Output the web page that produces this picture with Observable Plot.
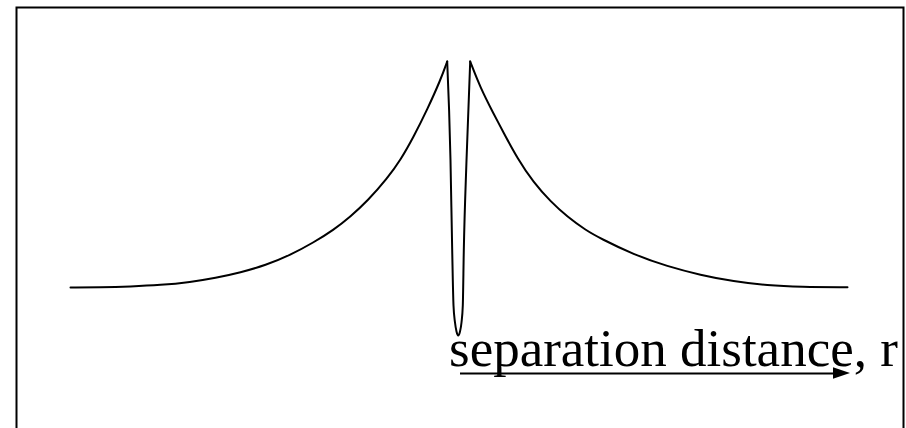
<!DOCTYPE html>
<html>
<head>
<meta charset="utf-8">
<script src="https://cdn.jsdelivr.net/npm/d3@7"></script>
<script src="https://cdn.jsdelivr.net/npm/@observablehq/plot@0.6"></script>
<style>
  html, body { margin: 0; padding: 0; background: #fff; overflow: hidden; }
  #wrap { width: 906px; height: 428px; overflow: hidden; }
</style>
</head>
<body>
<div id="wrap"></div>
<script>
// Potential U(r) vs separation distance r (arbitrary units)
// left tail (rise up to the left peak)
const leftR = [-3.877, -3.577, -3.277, -2.977, -2.677, -2.427, -2.177, -1.927, -1.677, -1.447, -1.247, -1.077, -0.907, -0.707, -0.577, -0.447, -0.307, -0.177, -0.110];
const leftU = [-0.003, -0.001, 0.007, 0.021, 0.051, 0.092, 0.147, 0.219, 0.322, 0.447, 0.572, 0.707, 0.862, 1.092, 1.272, 1.502, 1.782, 2.072, 2.257];
// central well
const dipR = [-0.110, -0.077, -0.060, -0.047, -0.032, -0.017, 0.000, 0.018, 0.033, 0.046, 0.056, 0.083, 0.120];
const dipU = [2.257, 1.267, 0.367, -0.183, -0.353, -0.443, -0.483, -0.443, -0.353, -0.183, 0.367, 1.267, 2.257];
// right tail
const rightR = [0.120, 0.223, 0.353, 0.453, 0.593, 0.753, 0.923, 1.093, 1.273, 1.423, 1.753, 2.093, 2.423, 2.753, 3.093, 3.423, 3.893];
const rightU = [2.257, 1.992, 1.737, 1.547, 1.287, 1.047, 0.857, 0.702, 0.572, 0.487, 0.327, 0.207, 0.122, 0.057, 0.017, 0.003, 0.000];

const label = "separation distance, r";
const arrowR = [0.023, 3.753];    // arrow shaft start/end
const arrowHead = [3.753, 3.923]; // arrow head base/tip
const arrowU = -0.863;

const tails = [
  ...leftR.map((r, i) => ({r, U: leftU[i], seg: "left"})),
  ...rightR.map((r, i) => ({r, U: rightU[i], seg: "right"}))
];
const well = dipR.map((r, i) => ({r, U: dipU[i]}));

const headData = [
  {r: arrowHead[0], U1: arrowU + 0.058, U2: arrowU - 0.058},
  {r: arrowHead[1], U1: arrowU, U2: arrowU}
];

const chart = Plot.plot({
  width: 906,
  height: 440,
  marginLeft: 16,
  marginTop: 7,
  marginRight: 3,
  marginBottom: 0,
  x: {domain: [-4.417, 4.453], axis: null},
  y: {domain: [-1.533, 2.797], axis: null},
  style: {background: "#fff", overflow: "hidden"},
  marks: [
    Plot.frame({stroke: "#000", strokeWidth: 2}),
    Plot.line(tails, {x: "r", y: "U", z: "seg", curve: "basis", stroke: "#000", strokeWidth: 2}),
    Plot.line(well, {x: "r", y: "U", curve: "monotone-x", stroke: "#000", strokeWidth: 2}),
    Plot.text([label], {x: -0.092, y: -0.617, text: d => d, textAnchor: "start", fontSize: 53, fontFamily: "Liberation Serif", fill: "#000"}),
    Plot.ruleY([arrowU], {x1: arrowR[0], x2: arrowR[1], stroke: "#000", strokeWidth: 2}),
    Plot.areaY(headData, {x: "r", y1: "U1", y2: "U2", fill: "#000", curve: "linear"})
  ]
});
document.getElementById("wrap").appendChild(chart);
</script>
</body>
</html>
